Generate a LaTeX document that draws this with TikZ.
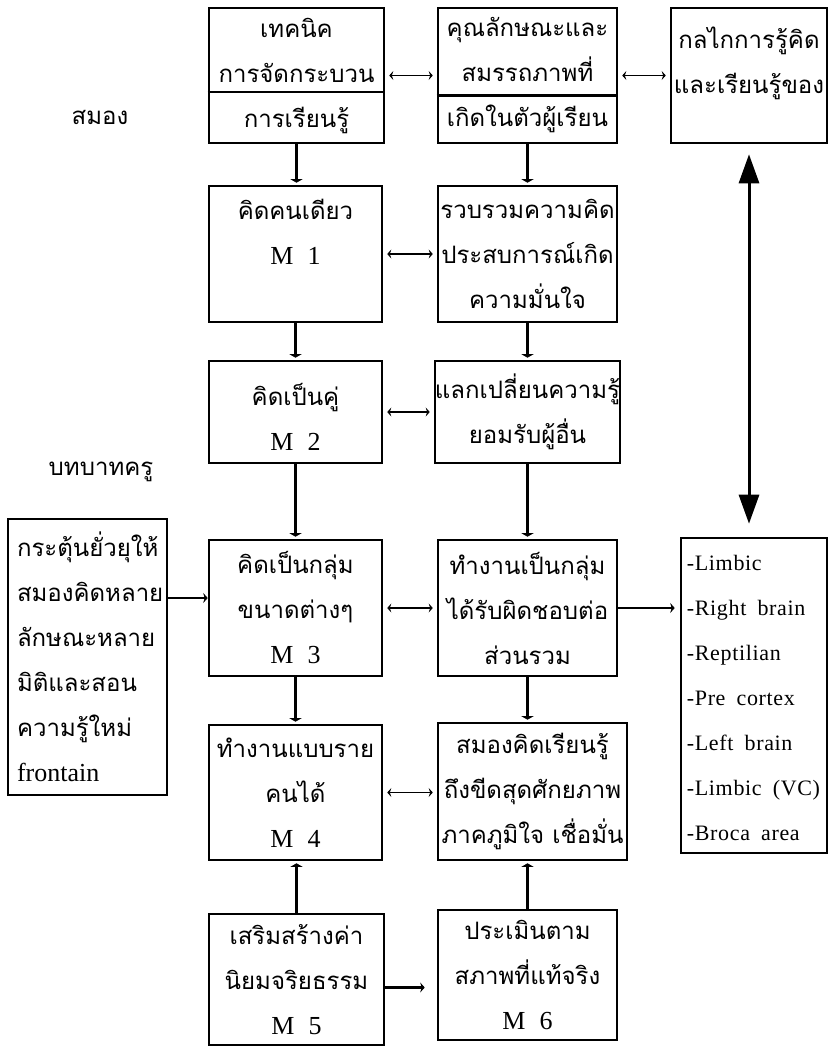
\documentclass[tikz,border=0pt]{standalone}
\usepackage{fontspec}
\setmainfont{Liberation Serif}
\newfontfamily\thaifont[Script=Thai]{Loma}
\newfontfamily\latinfont{Liberation Serif}[WordSpace=2.2]
\newfontfamily\listfont{Liberation Serif}[LetterSpace=3,WordSpace=1.8]
\newcommand\mlab[1]{{\latinfont\fontsize{26}{45}\selectfont M #1}}
\usetikzlibrary{arrows.meta}
\usetikzlibrary{calc}

\tikzset{
  blk/.style={draw, line width=2.6pt, inner sep=0pt, align=center, font=\thaifont\fontsize{24}{45}\selectfont},
  txt/.style={inner sep=0pt, align=center, font=\thaifont\fontsize{24}{45}\selectfont},
  dn/.style={-{Triangle[width=12pt,length=3.5pt]}, line width=2.2pt, shorten >=2pt},
  hs/.style={-{Stealth[length=4.5pt,width=10pt,inset=1.5pt]}, line width=2.2pt},
  dbl/.style={{Stealth[length=4pt,width=9pt,inset=1.5pt]}-{Stealth[length=4pt,width=9pt,inset=1.5pt]}, line width=1.1pt, shorten <=4pt, shorten >=4pt},
  big/.style={{Triangle[width=20pt,length=29pt]}-{Triangle[width=20pt,length=29pt]}, line width=3pt, shorten <=10pt, shorten >=13pt}
}

\begin{document}
\begin{tikzpicture}[x=1pt,y=-1pt]
\useasboundingbox (0,0) rectangle (831,1053);
\node [blk, minimum width=175, minimum height=135] (a1) at (296.5,75.5) {เทคนิค\\การจัดกระบวน\\การเรียนรู้};
\node [blk, minimum width=179, minimum height=135] (a2) at (527.5,75.5) {คุณลักษณะและ\\สมรรถภาพที่\\เกิดในตัวผู้เรียน};
\node [blk, minimum width=156, minimum height=135] (a3) at (749,75.5) {};
\node [txt] (a3t) at ([yshift=12pt]a3.center) {กลไกการรู้คิด\\และเรียนรู้ของ};
\draw [line width=2.4pt] ($(a1.north west)!0.622!(a1.south west)$) -- ($(a1.north east)!0.622!(a1.south east)$);
\draw [line width=2.4pt] ($(a2.north west)!0.644!(a2.south west)$) -- ($(a2.north east)!0.644!(a2.south east)$);
\node [blk, minimum width=173, minimum height=136] (m1) at (295.5,254) {};
\node [txt] (m1t) at ([yshift=22pt]m1.center) {คิดคนเดียว\\\mlab{1}};
\node [blk, minimum width=179, minimum height=136] (r1) at (527.5,254) {รวบรวมความคิด\\ประสบการณ์เกิด\\ความมั่นใจ};
\node [blk, minimum width=173, minimum height=102] (m2) at (295.5,412) {};
\node [txt] (m2t) at ([yshift=-5pt]m2.center) {คิดเป็นคู่\\\mlab{2}};
\node [blk, minimum width=179, minimum height=102] (r2) at (527.5,412) {แลกเปลี่ยนความรู้\\ยอมรับผู้อื่น};
\node [blk, align=left, text width=141pt, inner xsep=9pt, minimum height=276] (lft) at (87.5,657) {กระตุ้นยั่วยุให้\\สมองคิดหลาย\\ลักษณะหลาย\\มิติและสอน\\ความรู้ใหม่\\{\latinfont\fontsize{26}{45}\selectfont frontain}};
\node [blk, minimum width=173, minimum height=136] (m3) at (295.5,608) {คิดเป็นกลุ่ม\\ขนาดต่างๆ\\\mlab{3}};
\node [blk, minimum width=179, minimum height=136] (r3) at (527.5,608) {ทำงานเป็นกลุ่ม\\ได้รับผิดชอบต่อ\\ส่วนรวม};
\node [blk, minimum width=146, minimum height=315] (lst) at (754,695.5) {};
\node [txt, anchor=west, align=left, font=\listfont\fontsize{22}{45}\selectfont] (lstt) at ([xshift=7pt,yshift=-2pt]lst.west) {-Limbic\\-Right brain\\-Reptilian\\-Pre cortex\\-Left brain\\-Limbic (VC)\\-Broca area};
\node [blk, minimum width=173, minimum height=135] (m4) at (295.5,792.5) {ทำงานแบบราย\\คนได้\\\mlab{4}};
\node [blk, minimum width=189, minimum height=137] (r4) at (532.5,791.5) {สมองคิดเรียนรู้\\ถึงขีดสุดศักยภาพ\\ภาคภูมิใจ เชื่อมั่น};
\node [blk, minimum width=175, minimum height=131] (m5) at (296.5,979.5) {เสริมสร้างค่า\\นิยมจริยธรรม\\\mlab{5}};
\node [blk, minimum width=179, minimum height=130] (m6) at (527.5,975) {ประเมินตาม\\สภาพที่แท้จริง\\\mlab{6}};
\node [txt] (l1) at (100,117) {สมอง};
\node [txt] (l2) at (101,472) {บทบาทครู};
\draw [dn] (a1.south) -- (a1.south |- m1.north);
\draw [dn] (a2.south) -- (a2.south |- r1.north);
\draw [dn] (m1.south) -- (m1.south |- m2.north);
\draw [dn] (r1.south) -- (r1.south |- r2.north);
\draw [dn] (m2.south) -- (m2.south |- m3.north);
\draw [dn] (r2.south) -- (r2.south |- r3.north);
\draw [dn] (m3.south) -- (m3.south |- m4.north);
\draw [dn] (r3.south) -- (r3.south |- r4.north);
\draw [dn] (m5.north) -- (m5.north |- m4.south);
\draw [dn] (m6.north) -- (m6.north |- r4.south);
\draw [dbl] (a1.east) -- (a2.west);
\draw [dbl] (a2.east) -- (a3.west);
\draw [dbl] (m1.east) -- (r1.west);
\draw [dbl] (m2.east) -- (r2.west);
\draw [dbl] (m3.east) -- (r3.west);
\draw [dbl] (m4.east) -- (m4.east -| r4.west);
\draw [hs] ([yshift=10pt]m3.west -| lft.east) -- ([yshift=10pt]m3.west);
\draw [hs, shorten >=5pt] (r3.east) -- (r3.east -| lst.west);
\draw [hs, shorten >=12pt] ([yshift=-8pt]m5.east) -- ([yshift=-8pt]m5.east -| m6.west);
\draw [big] (a3.south) -- (a3.south |- lst.north);
\end{tikzpicture}
\end{document}
